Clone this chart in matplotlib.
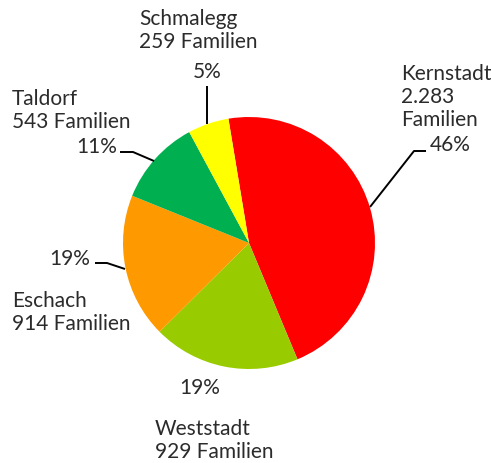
import matplotlib
matplotlib.use('Agg')
import matplotlib.pyplot as plt

# Daten
names = ['Kernstadt', 'Weststadt', 'Eschach', 'Taldorf', 'Schmalegg']
families = [2283, 929, 914, 543, 259]
colors = ['#FF0000', '#99CC00', '#FF9900', '#00B050', '#FFFF00']

W, H = 491, 464
CX, CY, R = 249, 244, 126


def px(x, y):
    # Pixelkoordinaten -> Datenkoordinaten (Radius = 1)
    return (x - CX) / R, (CY - y) / R


def fmt(n):
    return f"{n:,}".replace(",", ".")


plt.rcParams['font.family'] = ['Lato', 'DejaVu Sans']
txt = '#2b2b2b'
fs = 15

fig = plt.figure(figsize=(W / 100, H / 100), dpi=100)
ax = fig.add_axes([0, 0, 1, 1])

ax.pie(families, colors=colors, startangle=99.4, counterclock=False,
       radius=1, center=(0, 0), wedgeprops=dict(linewidth=0))

ax.set_xlim(-CX / R, (W - CX) / R)
ax.set_ylim(-(H - CY) / R, CY / R)
ax.set_aspect('equal')
ax.axis('off')

total = sum(families)
pct = [f"{round(v / total * 100)}%" for v in families]

# Position = Grundlinie der letzten Zeile
name_txt = {
    'Kernstadt': (f"Kernstadt\n{fmt(families[0])}\nFamilien", (401, 126)),
    'Weststadt': (f"Weststadt\n{fmt(families[1])} Familien", (155, 458)),
    'Eschach': (f"Eschach\n{fmt(families[2])} Familien", (12, 330)),
    'Taldorf': (f"Taldorf\n{fmt(families[3])} Familien", (12, 128)),
    'Schmalegg': (f"Schmalegg\n{fmt(families[4])} Familien", (139, 48)),
}
pct_pos = {
    'Kernstadt': ((450, 145), 'center'),
    'Weststadt': ((200, 388), 'center'),
    'Eschach': ((90, 259), 'right'),
    'Taldorf': ((117, 147), 'right'),
    'Schmalegg': ((207, 72), 'center'),
}
leaders = {
    'Kernstadt': [(426, 152), (414, 152), (370, 208)],
    'Eschach': [(95, 264), (107, 264), (125, 270)],
    'Taldorf': [(120, 153), (133, 153), (154, 162)],
    'Schmalegg': [(207, 87), (207, 125)],
}

for i, n in enumerate(names):
    s, (x, y) = name_txt[n]
    ax.text(*px(x, y), s, ha='left', va='baseline', fontsize=fs, color=txt,
            linespacing=1.2)
    (x, y), ha = pct_pos[n]
    ax.text(*px(x, y), pct[i], ha=ha, va='center', fontsize=fs, color=txt)
    if n in leaders:
        pts = [px(*p) for p in leaders[n]]
        ax.plot([p[0] for p in pts], [p[1] for p in pts], color='black',
                lw=1.4, solid_capstyle='butt')

fig.savefig('out.png', dpi=100)
